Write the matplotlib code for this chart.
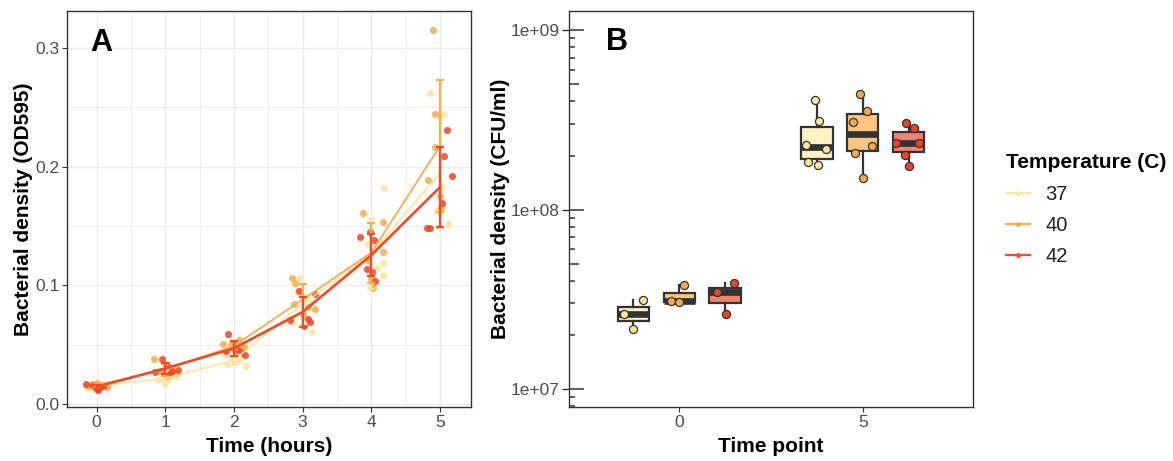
import numpy as np
import matplotlib
matplotlib.use("Agg")
import matplotlib.pyplot as plt
from matplotlib.lines import Line2D
from matplotlib import cbook
import matplotlib.transforms as mtransforms

plt.rcParams['font.family'] = ['Liberation Sans', 'DejaVu Sans']

# ---------------- data ----------------
temperatures = ['37', '40', '42']
hours = [0, 1, 2, 3, 4, 5]

# Panel A: OD595 replicates per hour (rows = hours)
od_37 = [[0.014, 0.015, 0.016, 0.015, 0.016, 0.014],
         [0.020, 0.022, 0.018, 0.024, 0.021, 0.025],
         [0.034, 0.032, 0.036, 0.040, 0.038, 0.042],
         [0.106, 0.068, 0.061, 0.090, 0.095, 0.085],
         [0.182, 0.119, 0.109, 0.099, 0.135, 0.115],
         [0.262, 0.244, 0.183, 0.163, 0.152, 0.166]]
od_40 = [[0.018, 0.015, 0.016, 0.014, 0.017, 0.016],
         [0.038, 0.030, 0.026, 0.028, 0.024, 0.027],
         [0.051, 0.054, 0.046, 0.050, 0.045, 0.048],
         [0.106, 0.102, 0.084, 0.080, 0.082, 0.075],
         [0.161, 0.153, 0.128, 0.121, 0.105, 0.098],
         [0.315, 0.244, 0.217, 0.189, 0.175, 0.165]]
od_42 = [[0.017, 0.013, 0.015, 0.016, 0.014, 0.012],
         [0.038, 0.033, 0.029, 0.027, 0.028, 0.025],
         [0.059, 0.041, 0.045, 0.046, 0.047, 0.044],
         [0.095, 0.071, 0.069, 0.066, 0.093, 0.072],
         [0.141, 0.145, 0.138, 0.114, 0.111, 0.104],
         [0.231, 0.209, 0.192, 0.169, 0.148, 0.148]]

# Panel B: CFU/ml per time point
time_points = ['0', '5']
cfu_37 = [[3.15e7, 2.62e7, 2.16e7],
          [4.07e8, 3.11e8, 2.29e8, 2.17e8, 1.84e8, 1.77e8]]
cfu_40 = [[3.79e7, 3.08e7, 3.04e7],
          [4.40e8, 3.54e8, 3.07e8, 2.26e8, 2.07e8, 1.50e8]]
cfu_42 = [[3.89e7, 3.47e7, 2.62e7],
          [3.03e8, 2.85e8, 2.34e8, 2.34e8, 2.01e8, 1.75e8]]

# ---------------- styling / positions ----------------
point_colors = ['#FDE59B', '#F7AA4C', '#EE4327']
line_colors = ['#FCE79E', '#F4AD55', '#EE4B2B']
box_fills = ['#FFF2C4', '#FCC680', '#F3826F']
dark = '#333333'

# horizontal jitter (x units) for panel A points, same shape as od arrays
jit_37 = [[-0.10, 0.05, 0.12, -0.04, 0.15, -0.15],
          [-0.10, 0.05, 0.00, 0.15, -0.05, 0.10],
          [-0.10, 0.18, 0.05, 0.10, -0.03, -0.15],
          [-0.04, -0.14, 0.14, 0.05, -0.08, 0.10],
          [0.19, 0.17, 0.17, 0.00, -0.05, 0.08],
          [-0.15, 0.05, 0.03, -0.04, 0.12, 0.00]]
jit_40 = [[0.00, -0.12, 0.08, 0.15, -0.05, 0.03],
          [-0.17, 0.08, 0.15, -0.08, 0.02, 0.12],
          [-0.16, 0.07, 0.12, -0.05, 0.02, 0.15],
          [-0.16, -0.11, -0.13, 0.18, 0.08, 0.00],
          [-0.12, 0.17, 0.17, -0.05, 0.00, 0.03],
          [-0.10, -0.07, -0.07, -0.17, 0.00, 0.02]]
jit_42 = [[-0.15, 0.00, 0.10, -0.05, 0.05, 0.02],
          [-0.05, 0.02, 0.18, -0.15, 0.10, 0.05],
          [-0.08, 0.16, -0.12, 0.05, 0.00, 0.10],
          [-0.05, -0.18, 0.11, 0.02, 0.18, 0.08],
          [-0.17, -0.02, 0.04, -0.06, 0.01, 0.05],
          [0.10, 0.05, 0.17, 0.03, -0.15, -0.19]]

# jitter (x units) for panel B points
jitb_37 = [[0.054, -0.049, 0.0], [-0.011, 0.011, -0.06, 0.049, -0.049, 0.005]]
jitb_40 = [[0.027, -0.043, 0.0], [-0.016, 0.022, -0.054, 0.049, -0.043, 0.0]]
jitb_42 = [[0.049, -0.043, 0.005], [-0.016, 0.027, -0.07, 0.054, -0.022, 0.0]]

W, H = 1173, 461
fig = plt.figure(figsize=(W / 100, H / 100), dpi=100)


def px_axes(left, right, top, bottom):
    return fig.add_axes([left / W, 1 - bottom / H, (right - left) / W, (bottom - top) / H])


tick_color = '#4D4D4D'
tick_fs = 12.5
label_fs = 15

# ---------------- Panel A ----------------
axA = px_axes(67, 471, 11, 407)
axA.set_xlim(-0.43, 5.45)
axA.set_ylim(-0.0025, 0.3312)
axA.set_xticks(hours)
axA.set_yticks([0.0, 0.1, 0.2, 0.3])
axA.set_yticklabels(['0.0', '0.1', '0.2', '0.3'])
axA.set_xticks([0.5, 1.5, 2.5, 3.5, 4.5], minor=True)
axA.set_yticks([0.05, 0.15, 0.25], minor=True)
axA.grid(True, which='major', color='#EBEBEB', lw=1.0, zorder=0)
axA.grid(True, which='minor', color='#EBEBEB', lw=0.6, zorder=0)
axA.set_axisbelow(True)
axA.tick_params(which='major', length=3.5, width=0.8, color=dark, labelsize=tick_fs,
                labelcolor=tick_color, pad=2)
axA.tick_params(which='minor', length=0)
for s in axA.spines.values():
    s.set_color(dark)
    s.set_linewidth(1.0)

od_all = [od_37, od_40, od_42]
jit_all = [jit_37, jit_40, jit_42]
for k in range(3):
    vals = np.array(od_all[k])
    jit = np.array(jit_all[k])
    xs = np.array(hours)[:, None] + jit
    axA.scatter(xs.ravel(), vals.ravel(), s=26, color=point_colors[k], alpha=0.85,
                lw=0, zorder=2 + k)
for k in range(3):
    vals = np.array(od_all[k])
    means = vals.mean(axis=1)
    sds = vals.std(axis=1, ddof=1)
    lw = 1.9 if k == 2 else 1.3
    axA.plot(hours, means, color=line_colors[k], lw=lw, zorder=6 + k)
    axA.errorbar(hours, means, yerr=sds, fmt='none', ecolor=line_colors[k],
                 elinewidth=1.6, capsize=2.8, capthick=1.6, zorder=6 + k)

axA.set_xlabel('Time (hours)', fontsize=label_fs, fontweight='bold')
axA.set_ylabel('Bacterial density (OD595)', fontsize=label_fs, fontweight='bold')
axA.xaxis.set_label_coords(0.5, -0.075)
axA.yaxis.set_label_coords(-0.085, 0.5)
axA.text(0.057, 0.918, 'A', transform=axA.transAxes, fontsize=22, fontweight='bold',
         va='center', ha='left')

# ---------------- Panel B ----------------
axB = px_axes(569, 973, 11, 407)
axB.set_yscale('log')
axB.set_ylim(10 ** 6.9, 10 ** 9.106)
axB.set_xlim(0.4, 2.6)
xpos = np.arange(1, len(time_points) + 1)

cfu_all = [cfu_37, cfu_40, cfu_42]
jitb_all = [jitb_37, jitb_40, jitb_42]
dodge = [-0.25, 0.0, 0.25]
for i in range(len(time_points)):
    for k in range(3):
        vals = np.array(cfu_all[k][i])
        pos = xpos[i] + dodge[k]
        st = cbook.boxplot_stats(np.log10(vals), whis=1.5)[0]
        for key in ('med', 'q1', 'q3', 'whislo', 'whishi', 'mean'):
            st[key] = 10 ** st[key]
        st['fliers'] = []
        axB.bxp([st], positions=[pos], widths=0.17, showfliers=False, showcaps=False,
                patch_artist=True, manage_ticks=False,
                boxprops=dict(facecolor=box_fills[k], edgecolor=dark, lw=1.6),
                whiskerprops=dict(color=dark, lw=1.6),
                medianprops=dict(color=dark, lw=4.8, solid_capstyle='butt'),
                zorder=3)
        jx = pos + np.array(jitb_all[k][i])
        axB.scatter(jx, vals, s=34, facecolor=point_colors[k], edgecolor=dark, lw=0.9,
                    zorder=4)

axB.set_xlim(0.4, 2.6)
axB.set_xticks(xpos)
axB.set_xticklabels(time_points)
axB.set_yticks([1e7, 1e8, 1e9])
axB.set_yticklabels(['1e+07', '1e+08', '1e+09'])
axB.yaxis.set_minor_locator(matplotlib.ticker.NullLocator())
axB.tick_params(axis='y', which='major', length=5, width=1.0, color=dark, labelsize=tick_fs,
                labelcolor=tick_color, pad=1.5)
axB.tick_params(axis='x', which='major', length=3.5, width=0.8, color=dark, labelsize=tick_fs,
                labelcolor=tick_color, pad=2)
for s in axB.spines.values():
    s.set_color(dark)
    s.set_linewidth(1.0)

# log ticks drawn inside along the left edge
blend = mtransforms.blended_transform_factory(axB.transAxes, axB.transData)
axw = 404.0
for dec in range(6, 10):
    for m in range(1, 10):
        v = m * 10.0 ** dec
        if not (10 ** 6.9 <= v <= 10 ** 9.106):
            continue
        L = 15 if m == 1 else (10 if m == 5 else 6)
        axB.plot([0, L / axw], [v, v], transform=blend, color=dark, lw=1.1,
                 solid_capstyle='butt', clip_on=False, zorder=5)

axB.set_xlabel('Time point', fontsize=label_fs, fontweight='bold')
axB.set_ylabel('Bacterial density (CFU/ml)', fontsize=label_fs, fontweight='bold')
axB.xaxis.set_label_coords(0.5, -0.075)
axB.yaxis.set_label_coords(-0.145, 0.5)
axB.text(0.092, 0.922, 'B', transform=axB.transAxes, fontsize=22, fontweight='bold',
         va='center', ha='left')

# ---------------- legend ----------------
handles = [Line2D([0], [0], color=line_colors[k], lw=1.6, marker='o', markersize=3.5,
                  markerfacecolor=line_colors[k], markeredgewidth=0)
           for k in range(3)]
leg = fig.legend(handles, temperatures, loc='upper left',
                 bbox_to_anchor=(998 / W, 1 - 145 / H), frameon=False,
                 title='Temperature (C)', title_fontproperties={'weight': 'bold', 'size': 15},
                 fontsize=14.5, handlelength=1.2, handletextpad=0.75, labelspacing=0.6,
                 borderaxespad=0)
leg._legend_box.align = 'left'
leg._legend_box.sep = 9
for t in leg.get_texts():
    t.set_color('#222222')

fig.savefig('out.png', dpi=100)
